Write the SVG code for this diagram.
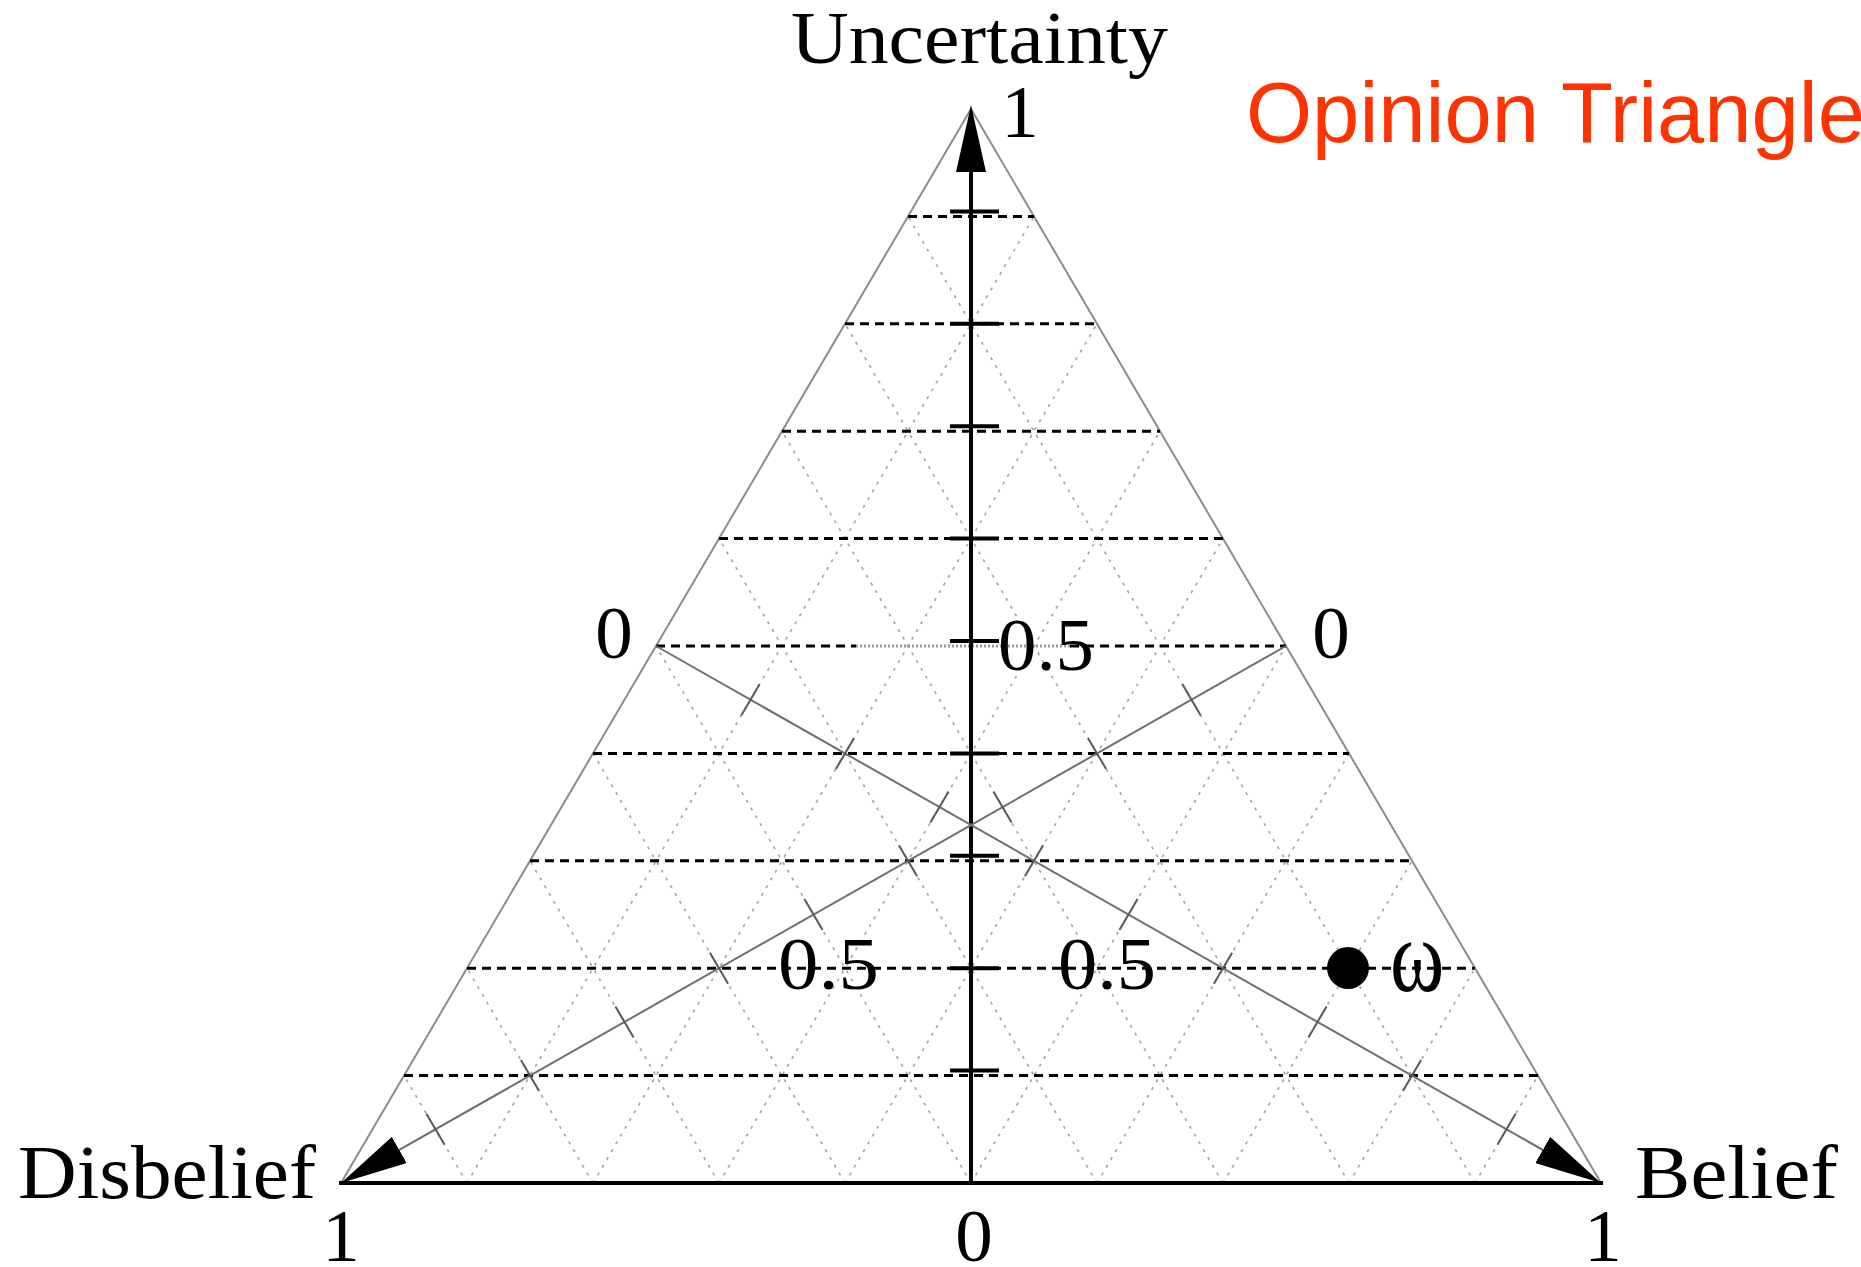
<svg xmlns="http://www.w3.org/2000/svg" width="1861" height="1267" viewBox="0 0 1861 1267">
<style>
.serif{font-family:"Liberation Serif","Times New Roman",serif;fill:#000}
.side{stroke:#8c8c8c;stroke-width:2;fill:none}
.grid{stroke:#a6a6a6;stroke-width:1.7;stroke-dasharray:3 6;fill:none}
.lvl{stroke:#000;stroke-width:3;stroke-dasharray:9 6;fill:none}
.axis{stroke:#000;stroke-width:4;fill:none}
.gaxis{stroke:#6e6e6e;stroke-width:2;fill:none}
.tick{stroke:#000;stroke-width:4;fill:none}
.gtick{stroke:#5a5a5a;stroke-width:2;fill:none}
</style>
<defs>
<marker id="arr" viewBox="0 0 67 30" refX="37" refY="15" markerWidth="67" markerHeight="30" markerUnits="userSpaceOnUse" orient="auto">
<path d="M0,0 L67,15 L0,30 Z" fill="#000"/>
</marker>
</defs>
<rect width="1861" height="1267" fill="#fff"/>

<g id="grid">
<path class="grid" d="M467,1183 L1034,216.4 M593,1183 L1097,323.8 M719,1183 L1160,431.2 M845,1183 L1223,538.6 M971,1183 L1286,646 M1097,1183 L1349,753.4 M1223,1183 L1412,860.8 M1349,1183 L1475,968.2 M1475,1183 L1538,1075.6"/>
<path class="grid" d="M467,1183 L404,1075.6 M593,1183 L467,968.2 M719,1183 L530,860.8 M845,1183 L593,753.4 M971,1183 L656,646 M1097,1183 L719,538.6 M1223,1183 L782,431.2 M1349,1183 L845,323.8 M1475,1183 L908,216.4"/>
</g>

<g id="triangle">
<path class="side" d="M341,1183 L971,109 L1601,1183"/>
<line class="axis" x1="339" y1="1183" x2="1603" y2="1183"/>
</g>

<g id="levels">
<line class="lvl" x1="404" y1="1075.6" x2="1538" y2="1075.6"/>
<line class="lvl" x1="467" y1="968.2" x2="1475" y2="968.2"/>
<line class="lvl" x1="530" y1="860.8" x2="1412" y2="860.8"/>
<line class="lvl" x1="593" y1="753.4" x2="1349" y2="753.4"/>
<line class="lvl" x1="656" y1="646" x2="856" y2="646"/>
<line x1="856" y1="646" x2="1070" y2="646" stroke="#9a9a9a" stroke-width="3" stroke-dasharray="2 2"/>
<line class="lvl" x1="1070" y1="646" x2="1286" y2="646"/>
<line class="lvl" x1="719" y1="538.6" x2="1223" y2="538.6"/>
<line class="lvl" x1="782" y1="431.2" x2="1160" y2="431.2"/>
<line class="lvl" x1="845" y1="323.8" x2="1097" y2="323.8"/>
<line class="lvl" x1="908" y1="216.4" x2="1034" y2="216.4"/>
</g>

<g id="connectors">
<line class="axis" x1="971" y1="1183" x2="971" y2="135" marker-end="url(#arr)"/>
<path class="tick" d="M950,1070.6 H999 M950,968.2 H999 M950,855.8 H999 M950,753.4 H999 M950,641 H999 M950,538.6 H999 M950,426.2 H999 M950,323.8 H999 M950,211.4 H999"/>
<line class="gaxis" x1="656" y1="646" x2="1574.9" y2="1168.2" marker-end="url(#arr)"/>
<line class="gaxis" x1="1286" y1="646" x2="367.1" y2="1168.2" marker-end="url(#arr)"/>
<path class="gtick" d="M741.4,715.2 L759.6,684.2 M835.9,768.9 L854.1,737.9 M930.4,822.6 L948.6,791.6 M1024.9,876.3 L1043.1,845.3 M1119.4,930 L1137.6,899 M1213.9,983.7 L1232.1,952.7 M1308.4,1037.4 L1326.6,1006.4 M1402.9,1091.1 L1421.1,1060.1 M1497.4,1144.8 L1515.6,1113.8"/>
<path class="gtick" d="M1182.4,684.2 L1200.6,715.2 M1087.9,737.9 L1106.1,768.9 M993.4,791.6 L1011.6,822.6 M898.9,845.3 L917.1,876.3 M804.4,899 L822.6,930 M709.9,952.7 L728.1,983.7 M615.4,1006.4 L633.6,1037.4 M520.9,1060.1 L539.1,1091.1 M426.4,1113.8 L444.6,1144.8"/>
</g>

<g id="node-uncertainty">
<text class="serif" x="791" y="63" font-size="73" textLength="377" lengthAdjust="spacingAndGlyphs">Uncertainty</text>
<text class="serif" x="1020" y="137" font-size="75" text-anchor="middle">1</text>
</g>
<g id="node-disbelief">
<text class="serif" x="18" y="1198" font-size="76" textLength="298" lengthAdjust="spacingAndGlyphs">Disbelief</text>
<text class="serif" x="341" y="1261" font-size="75" text-anchor="middle">1</text>
</g>
<g id="node-belief">
<text class="serif" x="1635" y="1198" font-size="76" textLength="203" lengthAdjust="spacingAndGlyphs">Belief</text>
<text class="serif" x="1603" y="1261" font-size="75" text-anchor="middle">1</text>
</g>
<g id="scale-labels">
<text class="serif" x="614" y="658" font-size="75" text-anchor="middle">0</text>
<text class="serif" x="1331" y="658" font-size="75" text-anchor="middle">0</text>
<text class="serif" x="974" y="1261" font-size="75" text-anchor="middle">0</text>
<text class="serif" x="998" y="670" font-size="75" textLength="96" lengthAdjust="spacingAndGlyphs">0.5</text>
<text class="serif" x="778" y="989" font-size="75" textLength="101" lengthAdjust="spacingAndGlyphs">0.5</text>
<text class="serif" x="1058" y="989" font-size="75" textLength="98" lengthAdjust="spacingAndGlyphs">0.5</text>
</g>
<g id="node-omega">
<circle cx="1348" cy="968" r="21" fill="#000"/>
<text class="serif" font-size="75" transform="translate(1390,991) scale(1.1,1.38)">ω</text>
</g>
<g id="title">
<text x="1246" y="142" font-family="'Liberation Sans',Arial,sans-serif" font-size="85" fill="#ff3300">Opinion Triangle</text>
</g>
</svg>
